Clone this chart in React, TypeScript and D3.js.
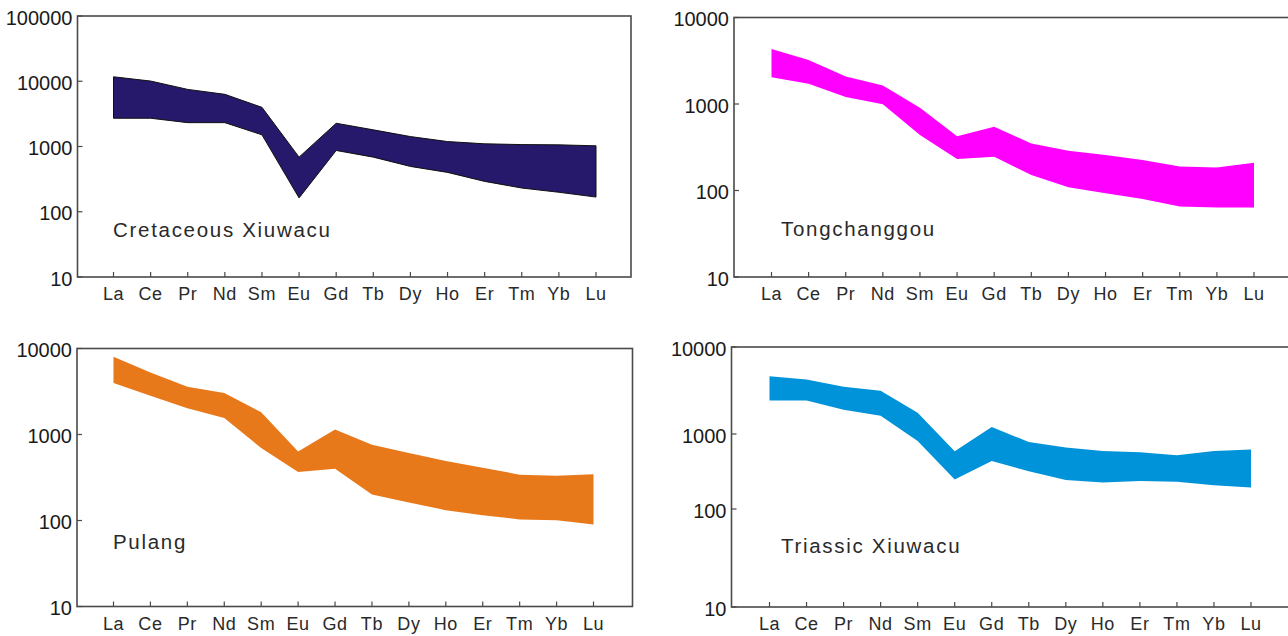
import { useEffect, useRef } from 'react';
import * as d3 from 'd3';

const ree = ['La', 'Ce', 'Pr', 'Nd', 'Sm', 'Eu', 'Gd', 'Tb', 'Dy', 'Ho', 'Er', 'Tm', 'Yb', 'Lu'];

// chondrite-normalised ranges (min / max) per deposit
const cretaceousLow = [2710, 2710, 2320, 2320, 1510, 163, 869, 687, 495, 401, 292, 231, 199, 168];
const cretaceousHigh = [11700, 10070, 7500, 6300, 3980, 687, 2270, 1800, 1420, 1190, 1100, 1070, 1060, 1025];

const tongLow = [2043, 1714, 1203, 991, 437, 231, 246, 151, 109, 93, 80, 65.5, 63.8, 63.8];
const tongHigh = [4325, 3235, 2080, 1640, 908, 425, 544, 350, 288, 257, 225, 189, 184, 210];

const pulangLow = [3965, 2831, 2020, 1560, 695, 366, 400, 200, 162, 132, 115, 103, 101, 90];
const pulangHigh = [8000, 5275, 3600, 3040, 1815, 635, 1143, 759, 608, 491, 411, 341, 332, 344];

const triassicLow = [2420, 2420, 1896, 1618, 807, 248, 438, 319, 243, 226, 236, 231, 208, 194];
const triassicHigh = [4620, 4240, 3500, 3150, 1750, 589, 1202, 783, 659, 594, 571, 521, 594, 619];

const ticksBig = [10, 100, 1000, 10000, 100000];
const ticksSmall = [10, 100, 1000, 10000];

const names = ['Cretaceous Xiuwacu', 'Tongchanggou', 'Pulang', 'Triassic Xiuwacu'];

const series = [
  { low: cretaceousLow, high: cretaceousHigh, ticks: ticksBig, color: '#26186b', outline: true },
  { low: tongLow, high: tongHigh, ticks: ticksSmall, color: '#ff00ff', outline: false },
  { low: pulangLow, high: pulangHigh, ticks: ticksSmall, color: '#e8791b', outline: false },
  { low: triassicLow, high: triassicHigh, ticks: ticksSmall, color: '#0093d9', outline: false },
];

// frame geometry of each panel (pixels)
const layout = [
  { left: 77.5, right: 631, top: 16, bottom: 277, la: 113.5, lu: 596, tickY: null, lx: 113, ly: 237 },
  { left: 734, right: 1300, top: 17.5, bottom: 277, la: 771.5, lu: 1254, tickY: null, lx: 781, ly: 236 },
  { left: 77, right: 632.5, top: 348.5, bottom: 606.5, la: 113.5, lu: 593.5, tickY: null, lx: 113, ly: 549 },
  { left: 731.5, right: 1300, top: 347, bottom: 607, la: 769.5, lu: 1251, tickY: [607, 509, 434, 347], lx: 781, ly: 553 },
];

const FONT = '"Liberation Sans", Arial, Helvetica, sans-serif';

export default function App() {
  const svgRef = useRef<SVGSVGElement>(null);

  useEffect(() => {
    document.body.style.margin = '0';
    const svg = d3.select(svgRef.current);
    svg.selectAll('*').remove();

    series.forEach((s, i) => {
      const L = layout[i];
      const g = svg.append('g');

      const x = d3.scalePoint<string>().domain(ree).range([L.la, L.lu]);
      const y = L.tickY
        ? d3.scaleLog().domain(s.ticks).range(L.tickY)
        : d3.scaleLog().domain([s.ticks[0], s.ticks[s.ticks.length - 1]]).range([L.bottom, L.top]);

      const area = d3
        .area<number>()
        .x((d, j) => x(ree[j]) as number)
        .y0((d, j) => y(s.low[j]))
        .y1((d) => y(d));

      g.append('path')
        .attr('d', area(s.high))
        .attr('fill', s.color)
        .attr('stroke', s.outline ? '#111' : 'none')
        .attr('stroke-width', 1)
        .attr('stroke-linejoin', 'round');

      // frame
      g.append('rect')
        .attr('x', L.left)
        .attr('y', L.top)
        .attr('width', L.right - L.left)
        .attr('height', L.bottom - L.top)
        .attr('fill', 'none')
        .attr('stroke', '#4a4a4a')
        .attr('stroke-width', 1.6);

      // x ticks + labels
      ree.forEach((r) => {
        const xp = x(r) as number;
        g.append('line')
          .attr('x1', xp)
          .attr('x2', xp)
          .attr('y1', L.bottom)
          .attr('y2', L.bottom - 5)
          .attr('stroke', '#4a4a4a')
          .attr('stroke-width', 1.2);
        g.append('text')
          .attr('x', xp)
          .attr('y', L.bottom + 23)
          .attr('text-anchor', 'middle')
          .attr('font-family', FONT)
          .attr('font-size', 18)
          .attr('letter-spacing', 0.6)
          .attr('fill', '#2a2a2a')
          .text(r);
      });

      // y ticks + labels
      s.ticks.forEach((t) => {
        const yp = y(t);
        g.append('line')
          .attr('x1', L.left)
          .attr('x2', L.left + 5)
          .attr('y1', yp)
          .attr('y2', yp)
          .attr('stroke', '#4a4a4a')
          .attr('stroke-width', 1.2);
        g.append('text')
          .attr('x', L.left - 5)
          .attr('y', yp + 1.5)
          .attr('text-anchor', 'end')
          .attr('dominant-baseline', 'central')
          .attr('font-family', FONT)
          .attr('font-size', 20)
          .attr('fill', '#1a1a1a')
          .text(String(t));
      });

      g.append('text')
        .attr('x', L.lx)
        .attr('y', L.ly)
        .attr('font-family', FONT)
        .attr('font-size', 20.5)
        .attr('letter-spacing', 1.7)
        .attr('fill', '#2a2a2a')
        .text(names[i]);
    });
  }, []);

  return <svg ref={svgRef} width={1288} height={636} style={{ display: 'block', background: '#fff' }} />;
}
